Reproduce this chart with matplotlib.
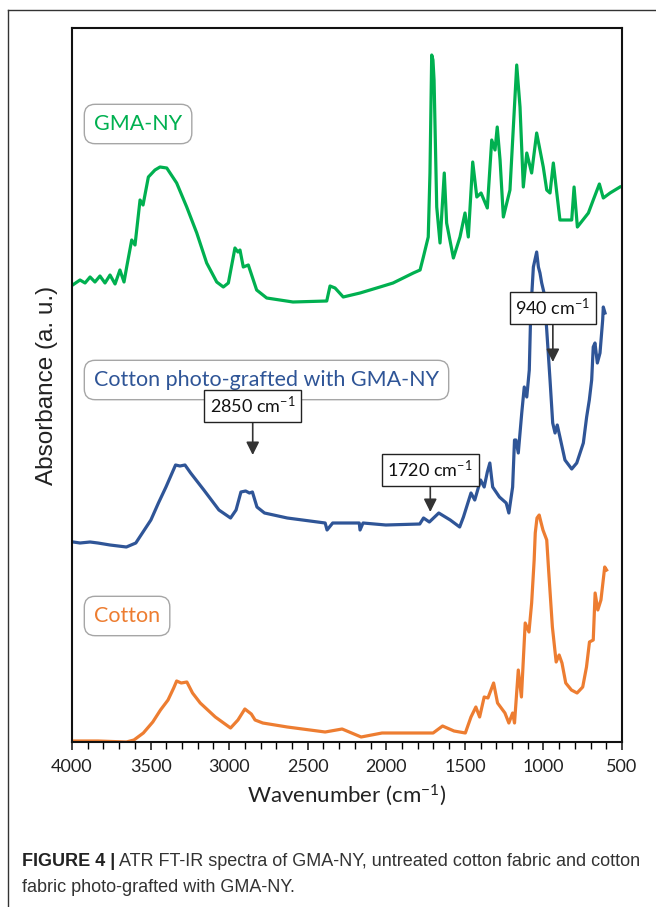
import matplotlib
matplotlib.use("Agg")
import matplotlib.pyplot as plt
from matplotlib import font_manager
from matplotlib.lines import Line2D
from matplotlib.ticker import MultipleLocator

# spectra: wavenumber (cm-1) and absorbance (a.u.)
gma_wn = [3996, 3949, 3917, 3885, 3854, 3822, 3790, 3758, 3726, 3695, 3669, 3652,
          3620, 3599, 3567, 3548, 3514, 3472, 3440, 3397, 3334, 3270, 3206, 3143,
          3079, 3037, 3005, 2963, 2944, 2931, 2910, 2878, 2825, 2761, 2594, 2379,
          2358, 2326, 2274, 2167, 2040, 1957, 1828, 1785, 1764, 1733, 1722, 1711,
          1703, 1696, 1679, 1658, 1631, 1616, 1573, 1531, 1499, 1478, 1450, 1424,
          1397, 1357, 1329, 1308, 1294, 1276, 1255, 1213, 1170, 1149, 1128, 1106,
          1075, 1043, 1022, 1001, 979, 958, 937, 895, 820, 805, 784, 714, 683, 644,
          619, 576, 513]
gma_abs = [457, 462, 459, 465, 460, 466, 459, 467, 458, 472, 460, 475,
           502, 497, 542, 537, 565, 572, 575, 574, 559, 535, 509, 479,
           460, 455, 459, 494, 490, 492, 475, 477, 452, 444, 440, 441,
           456, 454, 445, 449, 455, 459, 469, 472, 485, 505, 569, 687,
           682, 662, 535, 499, 569, 519, 484, 505, 529, 505, 580, 545,
           549, 534, 602, 592, 615, 582, 525, 552, 677, 635, 555, 589,
           569, 609, 592, 575, 552, 549, 579, 522, 522, 555, 515, 529, 542, 558,
           544, 549, 555]

graft_wn = [3992, 3949, 3885, 3835, 3758, 3654, 3594, 3498, 3450, 3402, 3341, 3313,
            3281, 3245, 3161, 3065, 2991, 2956, 2925, 2895, 2871, 2852, 2823, 2775,
            2630, 2389, 2377, 2341, 2172, 2167, 2148, 2003, 1787, 1763, 1726, 1666,
            1593, 1533, 1509, 1461, 1437, 1400, 1377, 1357, 1341, 1323, 1280, 1237,
            1220, 1196, 1184, 1175, 1160, 1138, 1122, 1106, 1090, 1081, 1064, 1043,
            1032, 1022, 1011, 996, 979, 958, 941, 926, 912, 895, 863, 820, 788, 746,
            725, 708, 693, 683, 672, 657, 640, 623, 619, 608]
graft_abs = [200, 199, 200, 199, 197, 195, 199, 222, 239, 255, 277, 276,
             277, 269, 252, 232, 224, 232, 250, 251, 249, 250, 235, 229,
             224, 219, 212, 219, 219, 212, 219, 217, 218, 224, 220, 229,
             222, 215, 225, 249, 242, 262, 255, 270, 279, 255, 245, 239,
             229, 255, 302, 302, 289, 329, 355, 345, 372, 429, 475, 490,
             475, 469, 459, 449, 412, 362, 319, 309, 317, 305, 282, 273, 279, 299,
             325, 342, 362, 395, 399, 379, 389, 422, 435, 429]

cotton_wn = [3992, 3835, 3654, 3606, 3546, 3486, 3437, 3389, 3353, 3334, 3305, 3269,
             3233, 3184, 3088, 2991, 2944, 2900, 2859, 2835, 2786, 2630, 2389, 2281,
             2160, 2027, 1907, 1702, 1642, 1569, 1497, 1461, 1430, 1406, 1377, 1353,
             1317, 1292, 1245, 1220, 1196, 1184, 1160, 1140, 1116, 1092, 1075, 1059,
             1052, 1041, 1027, 1016, 1003, 979, 967, 943, 919, 900, 882, 858, 822,
             786, 750, 726, 707, 683, 671, 654, 634, 610, 598]
cotton_abs = [1, 1, 0, 2, 9, 20, 32, 42, 54, 61, 59, 60,
              49, 39, 25, 14, 22, 33, 28, 22, 19, 15, 10, 13,
              5, 9, 9, 9, 16, 11, 9, 25, 35, 25, 45, 44,
              59, 39, 29, 19, 29, 19, 72, 45, 119, 110, 139, 182,
              209, 224, 227, 220, 212, 202, 172, 115, 80, 87, 79, 59, 52,
              49, 55, 75, 100, 102, 149, 132, 142, 175, 172]

series_names = ["GMA-NY", "Cotton photo-grafted with GMA-NY", "Cotton"]
series_colors = ["#00B050", "#2F5597", "#ED7D31"]

peak_labels = ["2850", "1720", "940"]
peak_wn = [2850, 1720, 940]

fonts = {f.name for f in font_manager.fontManager.ttflist}
cap_font = "Liberation Sans Narrow" if "Liberation Sans Narrow" in fonts else "Liberation Sans"

plt.rcParams["font.family"] = ["Lato", "DejaVu Sans"]
plt.rcParams["mathtext.fontset"] = "custom"
plt.rcParams["mathtext.rm"] = "Lato"
plt.rcParams["mathtext.it"] = "Lato:italic"

fig = plt.figure(figsize=(6.56, 9.07), dpi=100)
ax = fig.add_axes([72 / 656, 1 - 742 / 907, 550 / 656, 714 / 907])

for wn, ab, c in zip([gma_wn, graft_wn, cotton_wn], [gma_abs, graft_abs, cotton_abs], series_colors):
    ax.plot(wn, ab, color=c, lw=2.3, solid_joinstyle="round")

ax.set_xlim(4000, 500)
ax.set_ylim(0, 714)
ax.xaxis.set_major_locator(MultipleLocator(500))
ax.xaxis.set_minor_locator(MultipleLocator(100))
ax.tick_params(axis="x", which="major", direction="out", length=6, width=1.2,
               labelsize=13, colors="#222222", pad=6)
ax.tick_params(axis="x", which="minor", direction="out", length=5, width=1.0)
ax.set_yticks([])
for sp in ax.spines.values():
    sp.set_linewidth(1.5)
    sp.set_color("#111111")

ax.set_xlabel("Wavenumber (cm$^{-1}$)", fontsize=16, color="#222222", labelpad=6)
ax.set_ylabel("Absorbance (a. u.)", fontsize=17.5, family="Liberation Sans",
              color="#222222", labelpad=10)

# series labels in rounded boxes
label_y = [1 - (124 - 28) / 714, 1 - (380 - 28) / 714, 1 - (616 - 28) / 714]
for name, c, yy in zip(series_names, series_colors, label_y):
    ax.text(0.04, yy, name, transform=ax.transAxes, color=c, fontsize=15.5,
            ha="left", va="center",
            bbox=dict(boxstyle="round,pad=0.45,rounding_size=0.5", fc="white",
                      ec="#A6A6A6", lw=1.0))

# peak annotations
tip_y = [287, 230, 380]
box_y = [336, 272, 434]
for lab, wn, ty, by in zip(peak_labels, peak_wn, tip_y, box_y):
    ax.annotate(lab + " cm$^{-1}$", xy=(wn, ty), xytext=(wn, by),
                fontsize=13, ha="center", va="center", color="#111111",
                bbox=dict(boxstyle="square,pad=0.3", fc="white", ec="#222222", lw=1.0),
                arrowprops=dict(arrowstyle="-|>,head_length=0.6,head_width=0.3",
                                color="#333333", lw=1.2, shrinkA=0, shrinkB=0))

# outer frame of the figure panel
fig.add_artist(Line2D([8 / 656, 8 / 656], [0, 1 - 10 / 907], transform=fig.transFigure,
                      color="#333333", lw=1.0))
fig.add_artist(Line2D([8 / 656, 1], [1 - 10 / 907, 1 - 10 / 907], transform=fig.transFigure,
                      color="#333333", lw=1.0))

# caption
fig.canvas.draw()
r = fig.canvas.get_renderer()
t1 = fig.text(22 / 656, 1 - 862 / 907, "FIGURE 4 |", family=[cap_font, "DejaVu Sans"],
              weight="bold", fontsize=13, va="center", ha="left", color="#222222")
bb = t1.get_window_extent(renderer=r)
fig.text((bb.x1 + 4) / 656, 1 - 862 / 907,
         "ATR FT-IR spectra of GMA-NY, untreated cotton fabric and cotton",
         family=[cap_font, "DejaVu Sans"], fontsize=13, va="center", ha="left", color="#333333")
fig.text(22 / 656, 1 - 888 / 907, "fabric photo-grafted with GMA-NY.",
         family=[cap_font, "DejaVu Sans"], fontsize=13, va="center", ha="left", color="#333333")

fig.savefig("out.png", dpi=100)
